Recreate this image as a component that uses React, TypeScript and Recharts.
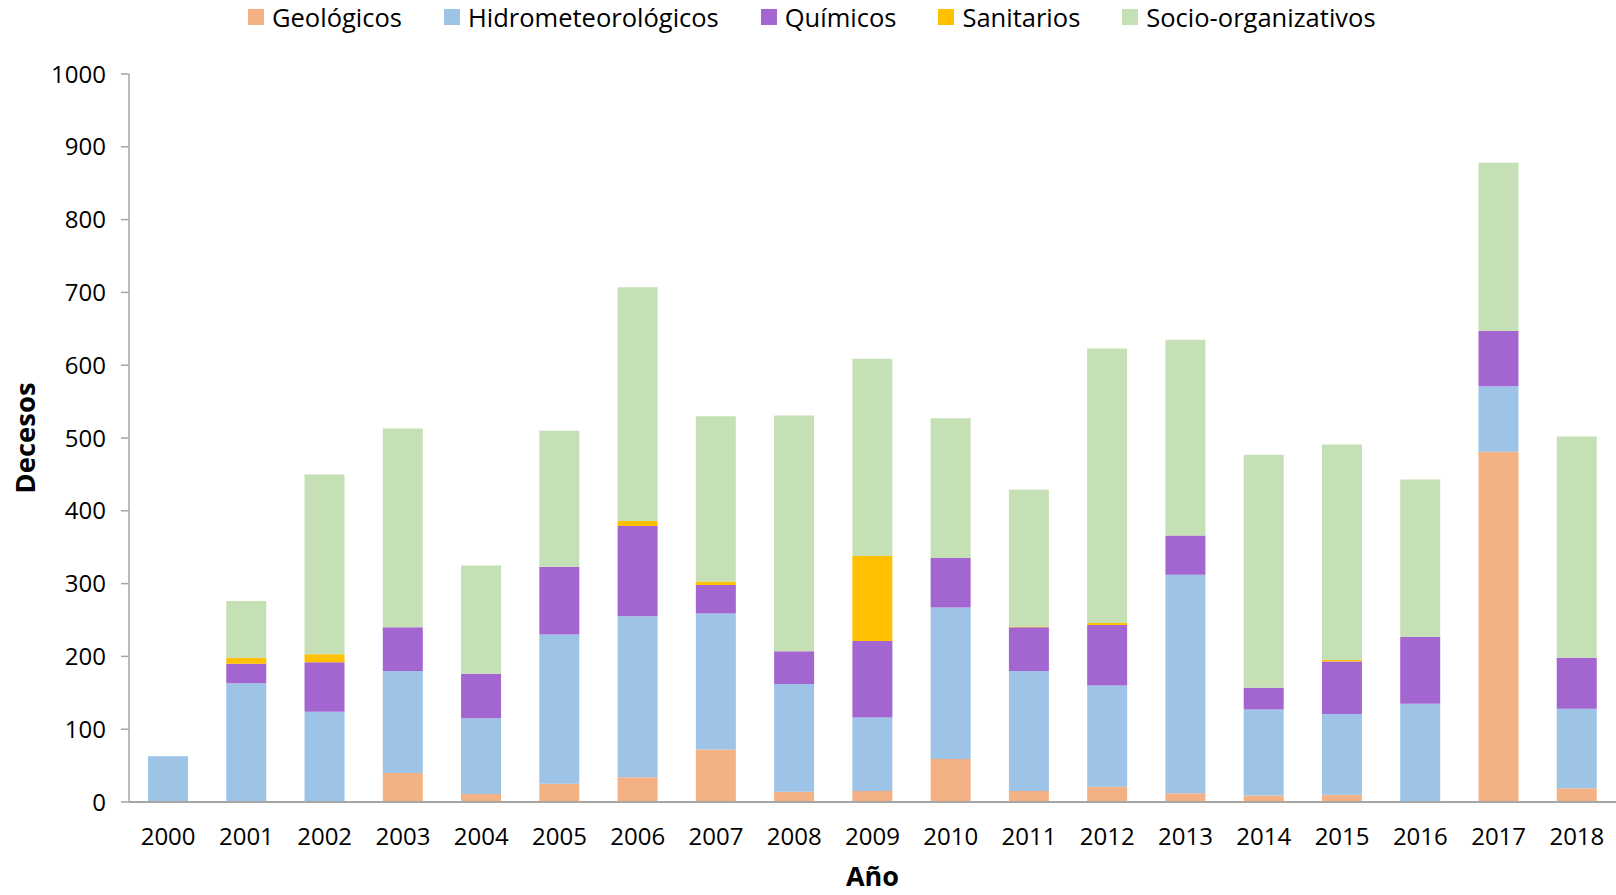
import { Bar, BarChart, XAxis, YAxis } from "recharts";

const years = [
  "2000", "2001", "2002", "2003", "2004", "2005", "2006", "2007", "2008", "2009",
  "2010", "2011", "2012", "2013", "2014", "2015", "2016", "2017", "2018",
];
const geologicos = [0, 0, 0, 40, 11, 25, 34, 72, 14, 15, 59, 15, 21, 12, 9, 10, 0, 481, 19];
const hidrometeorologicos = [63, 163, 124, 140, 104, 205, 221, 187, 148, 101, 208, 165, 139, 300, 118, 111, 135, 90, 109];
const quimicos = [0, 27, 68, 60, 61, 93, 124, 39, 45, 105, 68, 60, 83, 54, 30, 72, 92, 76, 70];
const sanitarios = [0, 8, 11, 0, 0, 0, 7, 5, 0, 117, 0, 1, 3, 0, 0, 2, 0, 0, 0];
const socioOrganizativos = [0, 78, 247, 273, 149, 187, 321, 227, 324, 271, 192, 188, 377, 269, 320, 296, 216, 231, 304];
const yTicks = [0, 100, 200, 300, 400, 500, 600, 700, 800, 900, 1000];

const series = [
  { key: "geo", name: "Geológicos", color: "#F4B183", values: geologicos },
  { key: "hidro", name: "Hidrometeorológicos", color: "#9DC3E6", values: hidrometeorologicos },
  { key: "quim", name: "Químicos", color: "#A366D1", values: quimicos },
  { key: "sani", name: "Sanitarios", color: "#FFC000", values: sanitarios },
  { key: "socio", name: "Socio-organizativos", color: "#C5E0B4", values: socioOrganizativos },
];

const chartData = years.map((year, i) => {
  const row: Record<string, string | number> = { year };
  series.forEach((s) => {
    row[s.key] = s.values[i];
  });
  return row;
});

const font = "'Open Sans', sans-serif";

export default function App() {
  return (
    <div style={{ position: "absolute", left: 0, top: 0, width: 1616, height: 895, background: "#fff", fontFamily: font }}>
      <div
        style={{
          position: "absolute",
          top: 0,
          left: 248,
          display: "flex",
          alignItems: "center",
          gap: 42,
          fontSize: 25.5,
          color: "#000",
          whiteSpace: "nowrap",
        }}
      >
        {series.map((s) => (
          <div key={s.key} style={{ display: "flex", alignItems: "center" }}>
            <span style={{ width: 16, height: 16, background: s.color, marginRight: 8, display: "inline-block" }} />
            <span>{s.name}</span>
          </div>
        ))}
      </div>
      <BarChart
        width={1616}
        height={895}
        data={chartData}
        margin={{ top: 74, right: 0, left: 20, bottom: 53 }}
        barSize={40}
      >
        <XAxis
          dataKey="year"
          height={40}
          tickLine={false}
          tickSize={0}
          tickMargin={26}
          axisLine={{ stroke: "#A6A6A6", strokeWidth: 2 }}
          tick={{ fill: "#000", fontSize: 24, fontFamily: font }}
          label={{ value: "Año", position: "bottom", offset: 25, style: { fill: "#000", fontSize: 27, fontWeight: 700, fontFamily: font } }}
        />
        <YAxis
          width={109}
          domain={[0, 1000]}
          ticks={yTicks}
          interval={0}
          tickSize={8}
          tickMargin={15}
          tickLine={{ stroke: "#A6A6A6", strokeWidth: 1.5 }}
          axisLine={{ stroke: "#A6A6A6", strokeWidth: 1.5 }}
          tick={{ fill: "#000", fontSize: 24, fontFamily: font }}
          label={{
            value: "Decesos",
            angle: -90,
            position: "insideLeft",
            offset: 5,
            style: { textAnchor: "middle", fill: "#000", fontSize: 27.5, fontWeight: 700, fontFamily: font },
          }}
        />
        {series.map((s) => (
          <Bar key={s.key} dataKey={s.key} name={s.name} stackId="a" fill={s.color} isAnimationActive={false} />
        ))}
      </BarChart>
    </div>
  );
}
